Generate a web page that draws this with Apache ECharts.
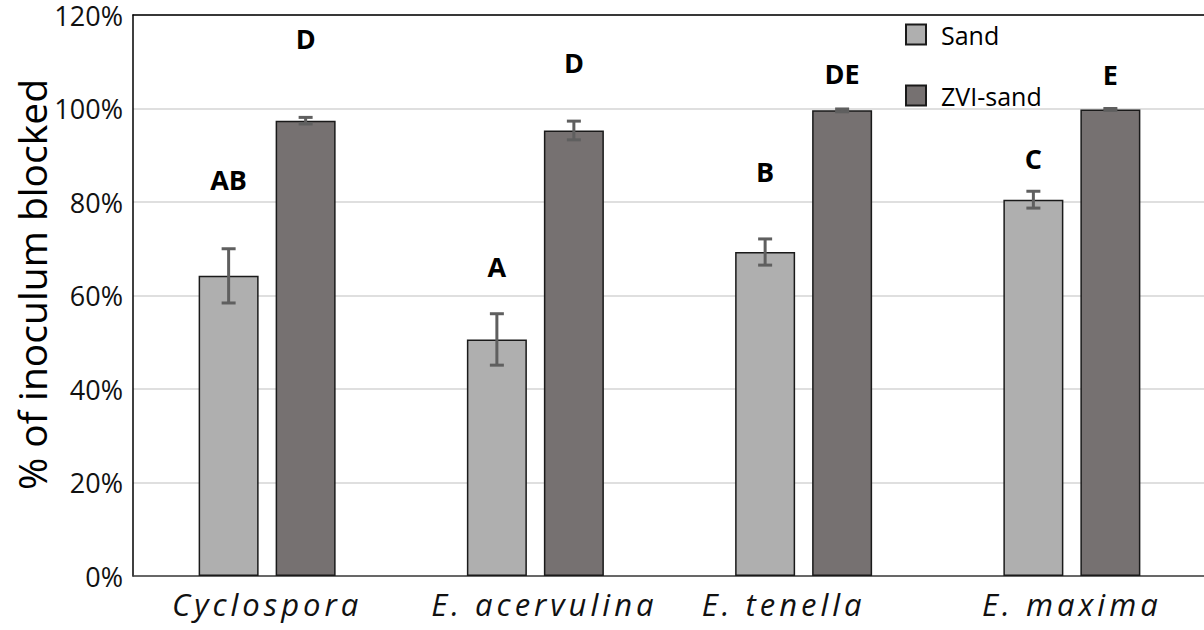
<!DOCTYPE html>
<html>
<head>
<meta charset="utf-8">
<script src="https://cdn.jsdelivr.net/npm/echarts@6/dist/echarts.min.js"></script>
<style>
  html, body { margin: 0; padding: 0; background: #fff; }
  #chart { width: 1204px; height: 630px; }
  #chart text[style*="italic"] { letter-spacing: 4px; }
</style>
</head>
<body>
<div id="chart"></div>
<script>
const categories = ['Cyclospora', 'E. acervulina', 'E. tenella', 'E. maxima'];
const seriesNames = ['Sand', 'ZVI-sand'];
const sandValues = [64.2, 50.6, 69.3, 80.5];
const sandErrors = [5.8, 5.5, 2.8, 1.8];
const zviValues = [97.4, 95.3, 99.6, 99.8];
const zviErrors = [0.7, 2.0, 0.3, 0.2];
const sandLetters = ['AB', 'A', 'B', 'C'];
const sandLetterY = [84.8, 66.3, 86.5, 89.3];
const zviLetters = ['D', 'D', 'DE', 'E'];
const zviLetterY = [115, 109.9, 107.5, 107.3];
const yMin = 0, yMax = 120, yInterval = 20;

const BAR_W = 60, BAR_GAP = 17;
const OFFSETS = [-(BAR_W + BAR_GAP) / 2, (BAR_W + BAR_GAP) / 2];
const FONT = 'Open Sans';
// small horizontal nudges of the category labels (padding [right, left])
const LABEL_PAD = [[0, 0], [0, 18], [40, 0], [0, 0]];

function errorSeries(values, errors, idx) {
  return {
    type: 'custom',
    z: 5,
    data: values.map((v, i) => [i, v, errors[i]]),
    renderItem: function (params, api) {
      const x = api.value(0), v = api.value(1), e = api.value(2);
      const top = api.coord([x, v + e]);
      const bot = api.coord([x, v - e]);
      const cx = top[0] + OFFSETS[idx];
      const cap = 7;
      const st = { stroke: '#5f5f5f', lineWidth: 3 };
      return {
        type: 'group',
        children: [
          { type: 'line', shape: { x1: cx, y1: top[1], x2: cx, y2: bot[1] }, style: st },
          { type: 'line', shape: { x1: cx - cap, y1: top[1], x2: cx + cap, y2: top[1] }, style: st },
          { type: 'line', shape: { x1: cx - cap, y1: bot[1], x2: cx + cap, y2: bot[1] }, style: st }
        ]
      };
    }
  };
}

function letterSeries(letters, ys, idx) {
  return {
    type: 'custom',
    z: 6,
    data: ys.map((y, i) => [i, y]),
    renderItem: function (params, api) {
      const p = api.coord([api.value(0), api.value(1)]);
      return {
        type: 'text',
        x: p[0] + OFFSETS[idx],
        y: p[1],
        style: {
          text: letters[params.dataIndex],
          fontSize: 27, fontWeight: 'bold', fontFamily: FONT,
          fill: '#000', align: 'center', verticalAlign: 'middle'
        }
      };
    }
  };
}

const rich = {};
LABEL_PAD.forEach((p, i) => {
  rich['c' + i] = {
    fontSize: 31, fontStyle: 'italic', fontFamily: FONT, color: '#111',
    padding: [0, p[0], 0, p[1]]
  };
});

const chart = echarts.init(document.getElementById('chart'), null, { renderer: 'svg' });
chart.setOption({
  animation: false,
  backgroundColor: '#fff',
  grid: { left: 133, right: -2, top: 15, bottom: 54, containLabel: false, outerBoundsMode: 'none' },
  legend: {
    orient: 'vertical',
    left: 900, top: 17,
    itemWidth: 20, itemHeight: 20, itemGap: 36,
    icon: 'rect',
    data: seriesNames,
    textStyle: { fontSize: 25, fontFamily: FONT, color: '#000', padding: [0, 0, 0, 10] }
  },
  xAxis: [{
    type: 'category',
    data: categories,
    axisLine: { show: true, lineStyle: { color: '#404040', width: 1.5 } },
    axisTick: { show: false },
    axisLabel: {
      margin: 12,
      formatter: (v, i) => '{c' + i + '|' + v + '}',
      rich: rich
    },
    splitLine: { show: false }
  }, {
    type: 'category',
    data: categories,
    position: 'top',
    axisLine: { show: true, lineStyle: { color: '#000', width: 1.5 } },
    axisTick: { show: false },
    axisLabel: { show: false }
  }],
  yAxis: {
    type: 'value',
    min: yMin, max: yMax, interval: yInterval,
    name: '% of inoculum blocked',
    nameLocation: 'middle',
    nameGap: 82,
    nameMoveOverlap: false,
    nameTextStyle: { fontSize: 39, fontFamily: FONT, color: '#000', padding: [0, 0, 0, 22] },
    axisLine: { show: true, lineStyle: { color: '#000', width: 1.5 } },
    axisTick: { show: false },
    axisLabel: { formatter: '{value}%', fontSize: 27, lineHeight: 27, fontFamily: FONT, color: '#111', margin: 10 },
    splitLine: { show: true, lineStyle: { color: '#d4d4d4', width: 1.5 } }
  },
  series: [
    {
      name: seriesNames[0], type: 'bar', data: sandValues,
      barWidth: BAR_W, barGap: (BAR_GAP / BAR_W * 100) + '%',
      itemStyle: { color: '#afafaf', borderColor: '#1a1a1a', borderWidth: 1.5 }
    },
    {
      name: seriesNames[1], type: 'bar', data: zviValues,
      barWidth: BAR_W, barGap: (BAR_GAP / BAR_W * 100) + '%',
      itemStyle: { color: '#767171', borderColor: '#1a1a1a', borderWidth: 1.5 }
    },
    errorSeries(sandValues, sandErrors, 0),
    errorSeries(zviValues, zviErrors, 1),
    letterSeries(sandLetters, sandLetterY, 0),
    letterSeries(zviLetters, zviLetterY, 1)
  ]
});
</script>
</body>
</html>
